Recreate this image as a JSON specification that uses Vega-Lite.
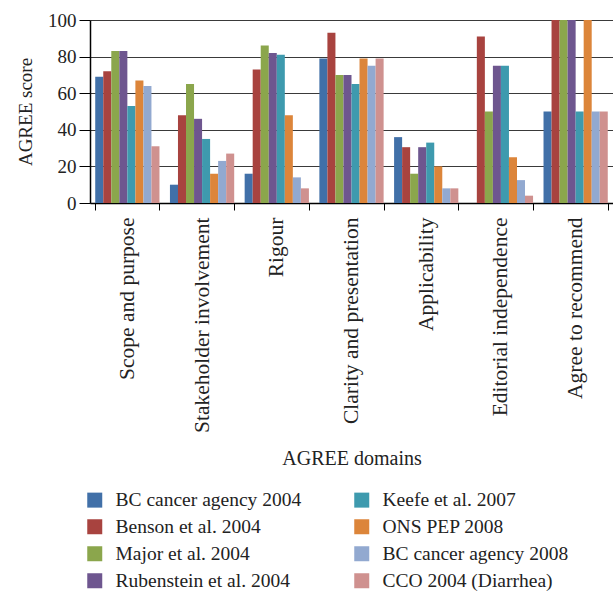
{
  "$schema": "https://vega.github.io/schema/vega-lite/v6.json",
  "width": 523,
  "height": 183,
  "autosize": {"type": "none"},
  "padding": {"left": 90, "top": 20, "right": 0, "bottom": 389},
  "background": "white",
  "view": {"stroke": null},
  "config": {
    "font": "Liberation Serif",
    "axis": {"labelFont": "Liberation Serif", "titleFont": "Liberation Serif", "titleFontWeight": "normal", "labelColor": "#222", "titleColor": "#222"},
    "legend": {"labelFont": "Liberation Serif"}
  },
  "data": {
    "values": [
      {"domain": "Scope and purpose", "study": "BC cancer agency 2004", "score": 69},
      {"domain": "Scope and purpose", "study": "Benson et al. 2004", "score": 72},
      {"domain": "Scope and purpose", "study": "Major et al. 2004", "score": 83},
      {"domain": "Scope and purpose", "study": "Rubenstein et al. 2004", "score": 83},
      {"domain": "Scope and purpose", "study": "Keefe et al. 2007", "score": 53},
      {"domain": "Scope and purpose", "study": "ONS PEP 2008", "score": 67},
      {"domain": "Scope and purpose", "study": "BC cancer agency 2008", "score": 64},
      {"domain": "Scope and purpose", "study": "CCO 2004 (Diarrhea)", "score": 31},
      {"domain": "Stakeholder involvement", "study": "BC cancer agency 2004", "score": 10},
      {"domain": "Stakeholder involvement", "study": "Benson et al. 2004", "score": 48},
      {"domain": "Stakeholder involvement", "study": "Major et al. 2004", "score": 65},
      {"domain": "Stakeholder involvement", "study": "Rubenstein et al. 2004", "score": 46},
      {"domain": "Stakeholder involvement", "study": "Keefe et al. 2007", "score": 35},
      {"domain": "Stakeholder involvement", "study": "ONS PEP 2008", "score": 16},
      {"domain": "Stakeholder involvement", "study": "BC cancer agency 2008", "score": 23},
      {"domain": "Stakeholder involvement", "study": "CCO 2004 (Diarrhea)", "score": 27},
      {"domain": "Rigour", "study": "BC cancer agency 2004", "score": 16},
      {"domain": "Rigour", "study": "Benson et al. 2004", "score": 73},
      {"domain": "Rigour", "study": "Major et al. 2004", "score": 86},
      {"domain": "Rigour", "study": "Rubenstein et al. 2004", "score": 82},
      {"domain": "Rigour", "study": "Keefe et al. 2007", "score": 81},
      {"domain": "Rigour", "study": "ONS PEP 2008", "score": 48},
      {"domain": "Rigour", "study": "BC cancer agency 2008", "score": 14},
      {"domain": "Rigour", "study": "CCO 2004 (Diarrhea)", "score": 8},
      {"domain": "Clarity and presentation", "study": "BC cancer agency 2004", "score": 79},
      {"domain": "Clarity and presentation", "study": "Benson et al. 2004", "score": 93},
      {"domain": "Clarity and presentation", "study": "Major et al. 2004", "score": 70},
      {"domain": "Clarity and presentation", "study": "Rubenstein et al. 2004", "score": 70},
      {"domain": "Clarity and presentation", "study": "Keefe et al. 2007", "score": 65},
      {"domain": "Clarity and presentation", "study": "ONS PEP 2008", "score": 79},
      {"domain": "Clarity and presentation", "study": "BC cancer agency 2008", "score": 75},
      {"domain": "Clarity and presentation", "study": "CCO 2004 (Diarrhea)", "score": 79},
      {"domain": "Applicability", "study": "BC cancer agency 2004", "score": 36},
      {"domain": "Applicability", "study": "Benson et al. 2004", "score": 30.5},
      {"domain": "Applicability", "study": "Major et al. 2004", "score": 16},
      {"domain": "Applicability", "study": "Rubenstein et al. 2004", "score": 30.5},
      {"domain": "Applicability", "study": "Keefe et al. 2007", "score": 33},
      {"domain": "Applicability", "study": "ONS PEP 2008", "score": 20},
      {"domain": "Applicability", "study": "BC cancer agency 2008", "score": 8},
      {"domain": "Applicability", "study": "CCO 2004 (Diarrhea)", "score": 8},
      {"domain": "Editorial independence", "study": "BC cancer agency 2004", "score": 0},
      {"domain": "Editorial independence", "study": "Benson et al. 2004", "score": 91},
      {"domain": "Editorial independence", "study": "Major et al. 2004", "score": 50},
      {"domain": "Editorial independence", "study": "Rubenstein et al. 2004", "score": 75},
      {"domain": "Editorial independence", "study": "Keefe et al. 2007", "score": 75},
      {"domain": "Editorial independence", "study": "ONS PEP 2008", "score": 25},
      {"domain": "Editorial independence", "study": "BC cancer agency 2008", "score": 12.5},
      {"domain": "Editorial independence", "study": "CCO 2004 (Diarrhea)", "score": 4},
      {"domain": "Agree to recommend", "study": "BC cancer agency 2004", "score": 50},
      {"domain": "Agree to recommend", "study": "Benson et al. 2004", "score": 100},
      {"domain": "Agree to recommend", "study": "Major et al. 2004", "score": 100},
      {"domain": "Agree to recommend", "study": "Rubenstein et al. 2004", "score": 100},
      {"domain": "Agree to recommend", "study": "Keefe et al. 2007", "score": 50},
      {"domain": "Agree to recommend", "study": "ONS PEP 2008", "score": 100},
      {"domain": "Agree to recommend", "study": "BC cancer agency 2008", "score": 50},
      {"domain": "Agree to recommend", "study": "CCO 2004 (Diarrhea)", "score": 50}
    ]
  },
  "mark": {"type": "bar", "stroke": null},
  "encoding": {
    "x": {
      "field": "domain",
      "type": "nominal",
      "sort": ["Scope and purpose", "Stakeholder involvement", "Rigour", "Clarity and presentation", "Applicability", "Editorial independence", "Agree to recommend"],
      "scale": {"paddingInner": 0.14, "paddingOuter": 0.07},
      "axis": {
        "title": "AGREE domains",
        "titleFontSize": 20,
        "titleY": 255,
        "titleBaseline": "middle",
        "labelAngle": -90,
        "labelAlign": "right",
        "labelBaseline": "middle",
        "labelFontSize": 21.5,
        "labelPadding": 7,
        "labelLimit": 300,
        "tickBand": "extent",
        "tickSize": 7,
        "tickColor": "black",
        "domainColor": "black",
        "domainWidth": 1.5,
        "grid": false
      }
    },
    "xOffset": {
      "field": "study",
      "type": "nominal",
      "sort": ["BC cancer agency 2004", "Benson et al. 2004", "Major et al. 2004", "Rubenstein et al. 2004", "Keefe et al. 2007", "ONS PEP 2008", "BC cancer agency 2008", "CCO 2004 (Diarrhea)"],
      "scale": {"paddingInner": 0, "paddingOuter": 0}
    },
    "y": {
      "field": "score",
      "type": "quantitative",
      "scale": {"domain": [0, 100], "nice": false},
      "axis": {
        "title": "AGREE score",
        "titleFontSize": 19,
        "titlePadding": 12,
        "values": [0, 20, 40, 60, 80, 100],
        "labelFontSize": 19,
        "labelPadding": 3,
        "tickSize": 11,
        "tickColor": "black",
        "domainColor": "black",
        "domainWidth": 1.5,
        "grid": true,
        "gridColor": "#3a3a3a",
        "gridWidth": 1.2
      }
    },
    "color": {
      "field": "study",
      "type": "nominal",
      "scale": {
        "domain": ["BC cancer agency 2004", "Benson et al. 2004", "Major et al. 2004", "Rubenstein et al. 2004", "Keefe et al. 2007", "ONS PEP 2008", "BC cancer agency 2008", "CCO 2004 (Diarrhea)"],
        "range": ["#4170A8", "#A8433F", "#8BA64C", "#6E568F", "#3E9AAE", "#DC853A", "#92A9D0", "#CF918F"]
      },
      "legend": {
        "title": null,
        "orient": "none",
        "legendX": -5,
        "legendY": 470,
        "columns": 2,
        "symbolType": "square",
        "symbolSize": 225,
        "symbolStrokeWidth": 0,
        "labelFontSize": 19.5,
        "labelOffset": 11,
        "labelLimit": 300,
        "rowPadding": 6,
        "columnPadding": 50,
        "labelColor": "#222"
      }
    }
  }
}
